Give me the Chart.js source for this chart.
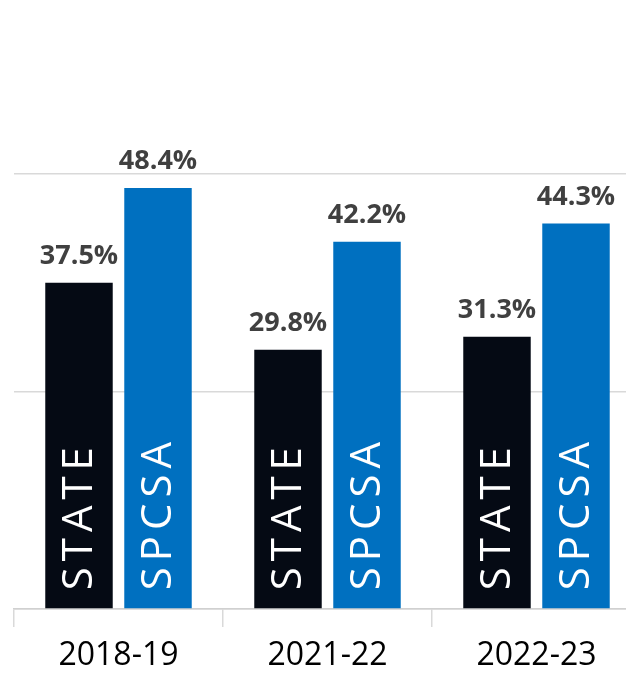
<!DOCTYPE html>
<html>
<head>
<meta charset="utf-8">
<script src="https://cdn.jsdelivr.net/npm/chart.js@4"></script>
<style>
    html, body { margin: 0; padding: 0; background: #fff; }
    #wrap { width: 626px; height: 674px; overflow: hidden; }
</style>
</head>
<body>
<div id="wrap"><canvas id="c" width="660" height="674"></canvas></div>
<script>
    var years = ["2018-19", "2021-22", "2022-23"];
    var seriesNames = ["STATE", "SPCSA"];
    var stateValues = [37.5, 29.8, 31.3];
    var spcsaValues = [48.4, 42.2, 44.3];
    var gridTicks = [0, 25, 50];

    // value labels above bars + rotated series name inside bars
    var barText = {
        id: 'barText',
        afterDatasetsDraw: function (chart) {
            var ctx = chart.ctx;
            chart.data.datasets.forEach(function (ds, di) {
                var meta = chart.getDatasetMeta(di);
                meta.data.forEach(function (bar, i) {
                    ctx.save();
                    ctx.font = 'bold 27px "Open Sans"';
                    ctx.fillStyle = '#404040';
                    ctx.textAlign = 'center';
                    ctx.textBaseline = 'alphabetic';
                    ctx.fillText(ds.data[i].toFixed(1) + '%', bar.x, bar.y - 19);
                    ctx.restore();

                    ctx.save();
                    ctx.translate(bar.x + 13, bar.base - 18);
                    ctx.rotate(-Math.PI / 2);
                    ctx.font = '400 42px "Open Sans"';
                    ctx.fillStyle = '#ffffff';
                    ctx.textAlign = 'left';
                    ctx.textBaseline = 'alphabetic';
                    ctx.letterSpacing = '6px';
                    ctx.fillText(ds.label, 0, 0);
                    ctx.restore();
                });
            });
        }
    };

    var ctx = document.getElementById('c').getContext('2d');
    var chart = new Chart(ctx, {
        type: 'bar',
        data: {
            labels: years,
            datasets: [{
                label: seriesNames[0],
                data: stateValues,
                backgroundColor: '#050a14'
            }, {
                label: seriesNames[1],
                data: spcsaValues,
                backgroundColor: '#0070c0'
            }]
        },
        options: {
            responsive: false,
            animation: false,
            devicePixelRatio: 1,
            layout: { padding: { left: 14, right: 19, top: 87, bottom: 0 } },
            plugins: {
                legend: { display: false },
                tooltip: { enabled: false }
            },
            datasets: {
                bar: { categoryPercentage: 0.756, barPercentage: 0.854 }
            },
            scales: {
                x: {
                    grid: {
                        offset: true,
                        drawOnChartArea: false,
                        tickLength: 18,
                        color: '#d9d9d9',
                        lineWidth: 1.5
                    },
                    border: { color: '#d0d0d0', width: 1.5 },
                    ticks: {
                        color: '#000',
                        font: { family: 'Open Sans', size: 32 },
                        padding: 10
                    },
                    afterFit: function (s) { s.height = 65; }
                },
                y: {
                    min: 0,
                    max: 60,
                    afterBuildTicks: function (s) {
                        s.ticks = gridTicks.map(function (v) { return { value: v }; });
                    },
                    ticks: { display: false },
                    grid: { color: '#d9d9d9', lineWidth: 1.5, drawTicks: false },
                    border: { display: false },
                    afterFit: function (s) { s.width = 0; }
                }
            }
        },
        plugins: [barText]
    });
</script>
</body>
</html>
